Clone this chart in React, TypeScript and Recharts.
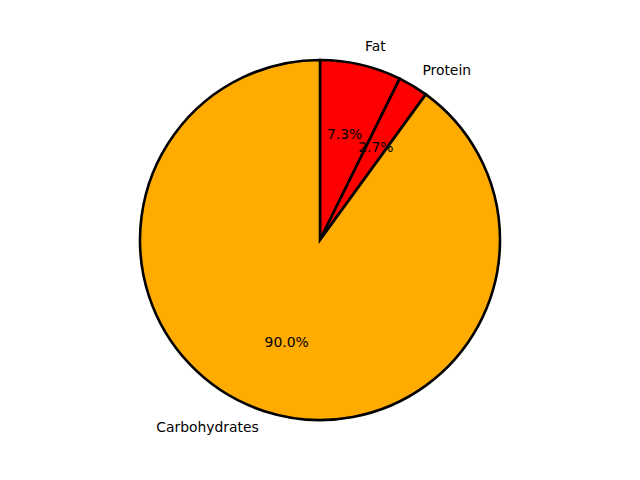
import React from 'react';
import { PieChart, Pie, Cell } from 'recharts';

const categories = ['Fat', 'Protein', 'Carbohydrates'];
const values = [7.3, 2.7, 90.0];
const colors = ['#ff0000', '#ff0000', '#ffab00'];

const data = categories.map((name, i) => ({ name, value: values[i] }));

const RAD = Math.PI / 180;

const renderLabel = (props: any) => {
  const { cx, cy, midAngle, outerRadius, percent, name } = props;
  const cos = Math.cos(-midAngle * RAD);
  const sin = Math.sin(-midAngle * RAD);
  const lr = outerRadius * 1.1;
  const pr = outerRadius * 0.6;
  const lx = cx + lr * cos;
  const ly = cy + lr * sin - 1;
  const px = cx + pr * cos;
  const py = cy + pr * sin - 1;
  return (
    <g>
      <text x={lx} y={ly} textAnchor={cos >= 0 ? 'start' : 'end'} dominantBaseline="central"
        fontFamily="DejaVu Sans" fontSize={13.9} fill="#000">{name}</text>
      <text x={px} y={py} textAnchor="middle" dominantBaseline="central"
        fontFamily="DejaVu Sans" fontSize={13.9} fill="#000">{(percent * 100).toFixed(1) + '%'}</text>
    </g>
  );
};

export default function App() {
  return (
    <div style={{ position: 'absolute', left: 0, top: 0, width: 640, height: 480, background: '#fff' }}>
      <PieChart width={640} height={480} margin={{ top: 0, right: 0, bottom: 0, left: 0 }}>
        <Pie
          data={data}
          dataKey="value"
          nameKey="name"
          cx={320}
          cy={240}
          outerRadius={180}
          startAngle={90}
          endAngle={-270}
          stroke="#000"
          strokeWidth={2.6}
          label={renderLabel}
          labelLine={false}
          isAnimationActive={false}
        >
          {data.map((d, i) => (
            <Cell key={d.name} fill={colors[i]} stroke="#000" strokeWidth={2.6} />
          ))}
        </Pie>
      </PieChart>
    </div>
  );
}
